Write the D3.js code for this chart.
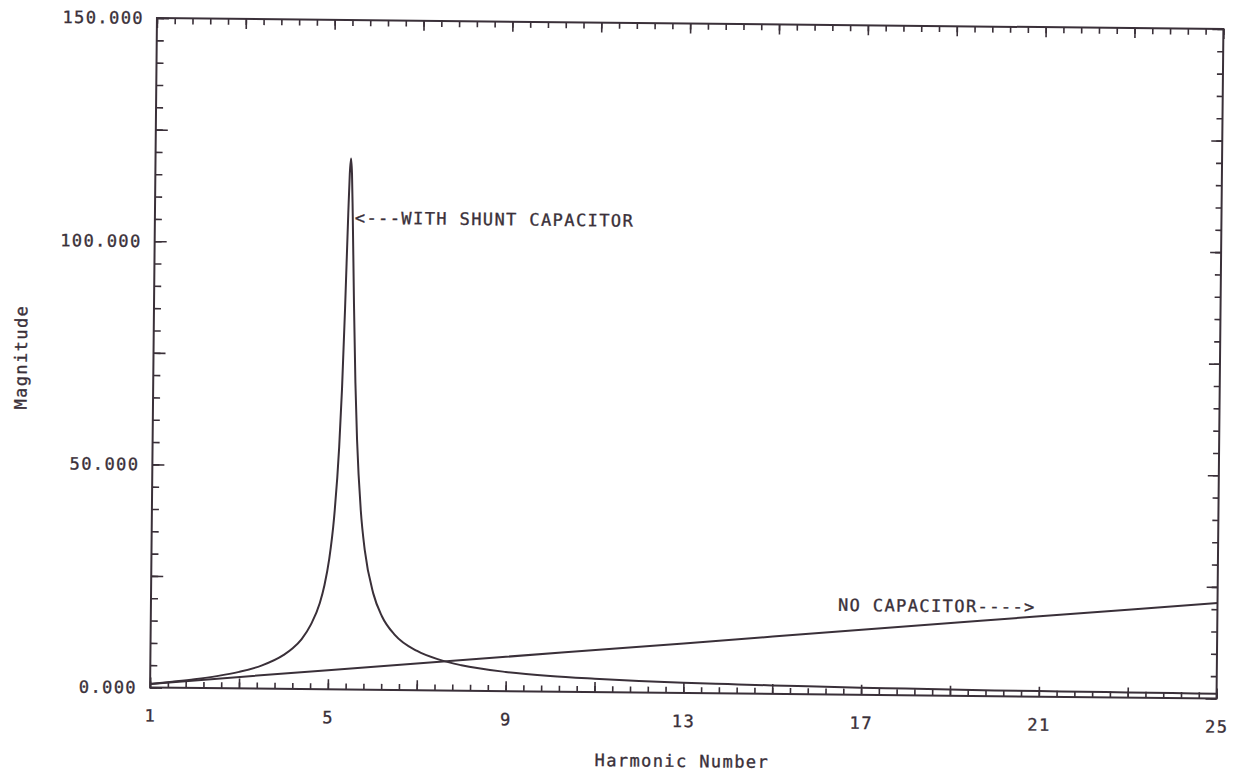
<!DOCTYPE html>
<html>
<head>
<meta charset="utf-8">
<script src="https://cdn.jsdelivr.net/npm/d3@7"></script>
<style>
  html, body { margin: 0; padding: 0; background: #ffffff; }
  svg { display: block; }
</style>
</head>
<body>
<svg id="chart" width="1235" height="776"></svg>
<script>
// Impedance magnitude versus harmonic number, with and without a shunt capacitor.
const harmonics = [1, 1.5, 2, 2.5, 3, 3.5, 4, 4.2, 4.4, 4.6, 4.8, 4.9,
  5, 5.1, 5.2, 5.25, 5.3, 5.35, 5.375, 5.4, 5.425, 5.45,
  5.5, 5.55, 5.6, 5.7, 5.8, 6, 6.2, 6.5, 7, 7.5, 8,
  9, 10, 11, 12, 13, 14, 15, 16, 17, 18, 19, 20, 21, 22, 23, 24, 25];
const shuntMagnitude = [0.8, 1.35, 1.95, 2.7, 3.7, 5.15, 7.6, 9.1, 11.2, 14.4, 19.3, 23.3,
  29.1, 38.3, 54.4, 67.4, 85.4, 106.6, 115.5, 119.0, 115.5, 106.8,
  86.2, 68.7, 56.0, 40.2, 31.2, 21.6, 16.5, 12.3, 8.8, 6.9, 5.7,
  4.3, 3.5, 3.0, 2.6, 2.3, 2.1, 1.9, 1.75, 1.6, 1.5, 1.4, 1.3, 1.25, 1.2, 1.15, 1.1, 1.05];

const noCapHarmonics = [1, 5, 9, 13, 17, 21, 25];
const noCapMagnitude = [0.8, 4.3, 7.7, 11.1, 14.6, 18.0, 21.4];

const xTickValues = [1, 5, 9, 13, 17, 21, 25];
const xTickLabels = ["1", "5", "9", "13", "17", "21", "25"];
const yTickValues = [0, 50, 100, 150];
const yTickLabels = ["0.000", "50.000", "100.000", "150.000"];

const ink = "#3a3039";
const font = "'DejaVu Sans Mono', 'Liberation Mono', monospace";

const plot = { left: 153.5, top: 23.5, right: 1220, bottom: 693 };

const x = d3.scaleLinear().domain([1, 25]).range([plot.left, plot.right]);
const y = d3.scaleLinear().domain([0, 150]).range([plot.bottom, plot.top]);

const svg = d3.select("#chart");
// the whole sheet sits slightly askew, as on the plotter page
const sheet = svg.append("g").attr("transform", "rotate(0.59, 687, 358)");

function styleTicks(g) {
  g.select(".domain").remove();
  g.selectAll(".tick line").attr("stroke", ink).attr("stroke-width", 1.6);
  g.selectAll(".tick text").remove();
}

const minorX = d3.range(61).map(i => +(1 + 0.4 * i).toFixed(2));
const majorX = d3.range(1, 26, 2);
const minorY = d3.range(0, 151, 5);
const majorY = d3.range(0, 151, 25);

// bottom edge ticks (pointing up into the plot)
sheet.append("g").attr("transform", `translate(0,${plot.bottom})`)
  .call(d3.axisTop(x).tickValues(minorX).tickSize(6)).call(styleTicks);
sheet.append("g").attr("transform", `translate(0,${plot.bottom})`)
  .call(d3.axisTop(x).tickValues(majorX).tickSize(10)).call(styleTicks);
// top edge ticks (pointing down)
sheet.append("g").attr("transform", `translate(0,${plot.top})`)
  .call(d3.axisBottom(x).tickValues(minorX).tickSize(6)).call(styleTicks);
sheet.append("g").attr("transform", `translate(0,${plot.top})`)
  .call(d3.axisBottom(x).tickValues(majorX).tickSize(10)).call(styleTicks);
// left edge ticks
sheet.append("g").attr("transform", `translate(${plot.left},0)`)
  .call(d3.axisRight(y).tickValues(minorY).tickSize(7)).call(styleTicks);
sheet.append("g").attr("transform", `translate(${plot.left},0)`)
  .call(d3.axisRight(y).tickValues(majorY).tickSize(12)).call(styleTicks);
// right edge ticks
sheet.append("g").attr("transform", `translate(${plot.right},0)`)
  .call(d3.axisLeft(y).tickValues(minorY).tickSize(6)).call(styleTicks);
sheet.append("g").attr("transform", `translate(${plot.right},0)`)
  .call(d3.axisLeft(y).tickValues(majorY).tickSize(11)).call(styleTicks);

// frame
sheet.append("rect")
  .attr("x", plot.left).attr("y", plot.top)
  .attr("width", plot.right - plot.left).attr("height", plot.bottom - plot.top)
  .attr("fill", "none").attr("stroke", ink).attr("stroke-width", 2);

const textStyle = sel => sel
  .attr("fill", ink)
  .attr("stroke", ink)
  .attr("stroke-width", 0.35)
  .style("font-family", font)
  .style("font-size", "17px")
  .style("letter-spacing", "1.4px");

function styleLabels(g) {
  g.select(".domain").remove();
  g.selectAll(".tick line").remove();
  g.selectAll(".tick text").call(textStyle);
}

// tick labels
sheet.append("g").attr("transform", `translate(0,${plot.bottom})`)
  .call(d3.axisBottom(x).tickValues(xTickValues).tickSize(0).tickPadding(22)
    .tickFormat((d, i) => xTickLabels[i]))
  .call(styleLabels);
sheet.append("g").attr("transform", `translate(${plot.left},0)`)
  .call(d3.axisLeft(y).tickValues(yTickValues).tickSize(0).tickPadding(13)
    .tickFormat((d, i) => yTickLabels[i]))
  .call(styleLabels);

// curves
const shuntData = harmonics.map((h, i) => ({ h, m: shuntMagnitude[i] }));
const noCapData = noCapHarmonics.map((h, i) => ({ h, m: noCapMagnitude[i] }));

const line = d3.line().x(d => x(d.h)).y(d => y(d.m)).curve(d3.curveMonotoneX);

sheet.append("path").datum(noCapData)
  .attr("d", line).attr("fill", "none")
  .attr("stroke", ink).attr("stroke-width", 2);
sheet.append("path").datum(shuntData)
  .attr("d", line).attr("fill", "none")
  .attr("stroke", ink).attr("stroke-width", 2).attr("stroke-linejoin", "round");

// curve annotations
sheet.append("text")
  .attr("x", x(5.5)).attr("y", y(105.7)).attr("dy", "0.35em")
  .text("<---WITH SHUNT CAPACITOR").call(textStyle);
sheet.append("text")
  .attr("x", x(16.46)).attr("y", y(20.1)).attr("dy", "0.35em")
  .text("NO CAPACITOR---->").call(textStyle);

// axis titles
sheet.append("text")
  .attr("x", 686).attr("y", 767)
  .attr("text-anchor", "middle")
  .text("Harmonic Number").call(textStyle);
sheet.append("text")
  .attr("transform", "translate(21,364) rotate(-90)")
  .attr("text-anchor", "middle").attr("dy", "0.35em")
  .text("Magnitude").call(textStyle);
</script>
</body>
</html>
